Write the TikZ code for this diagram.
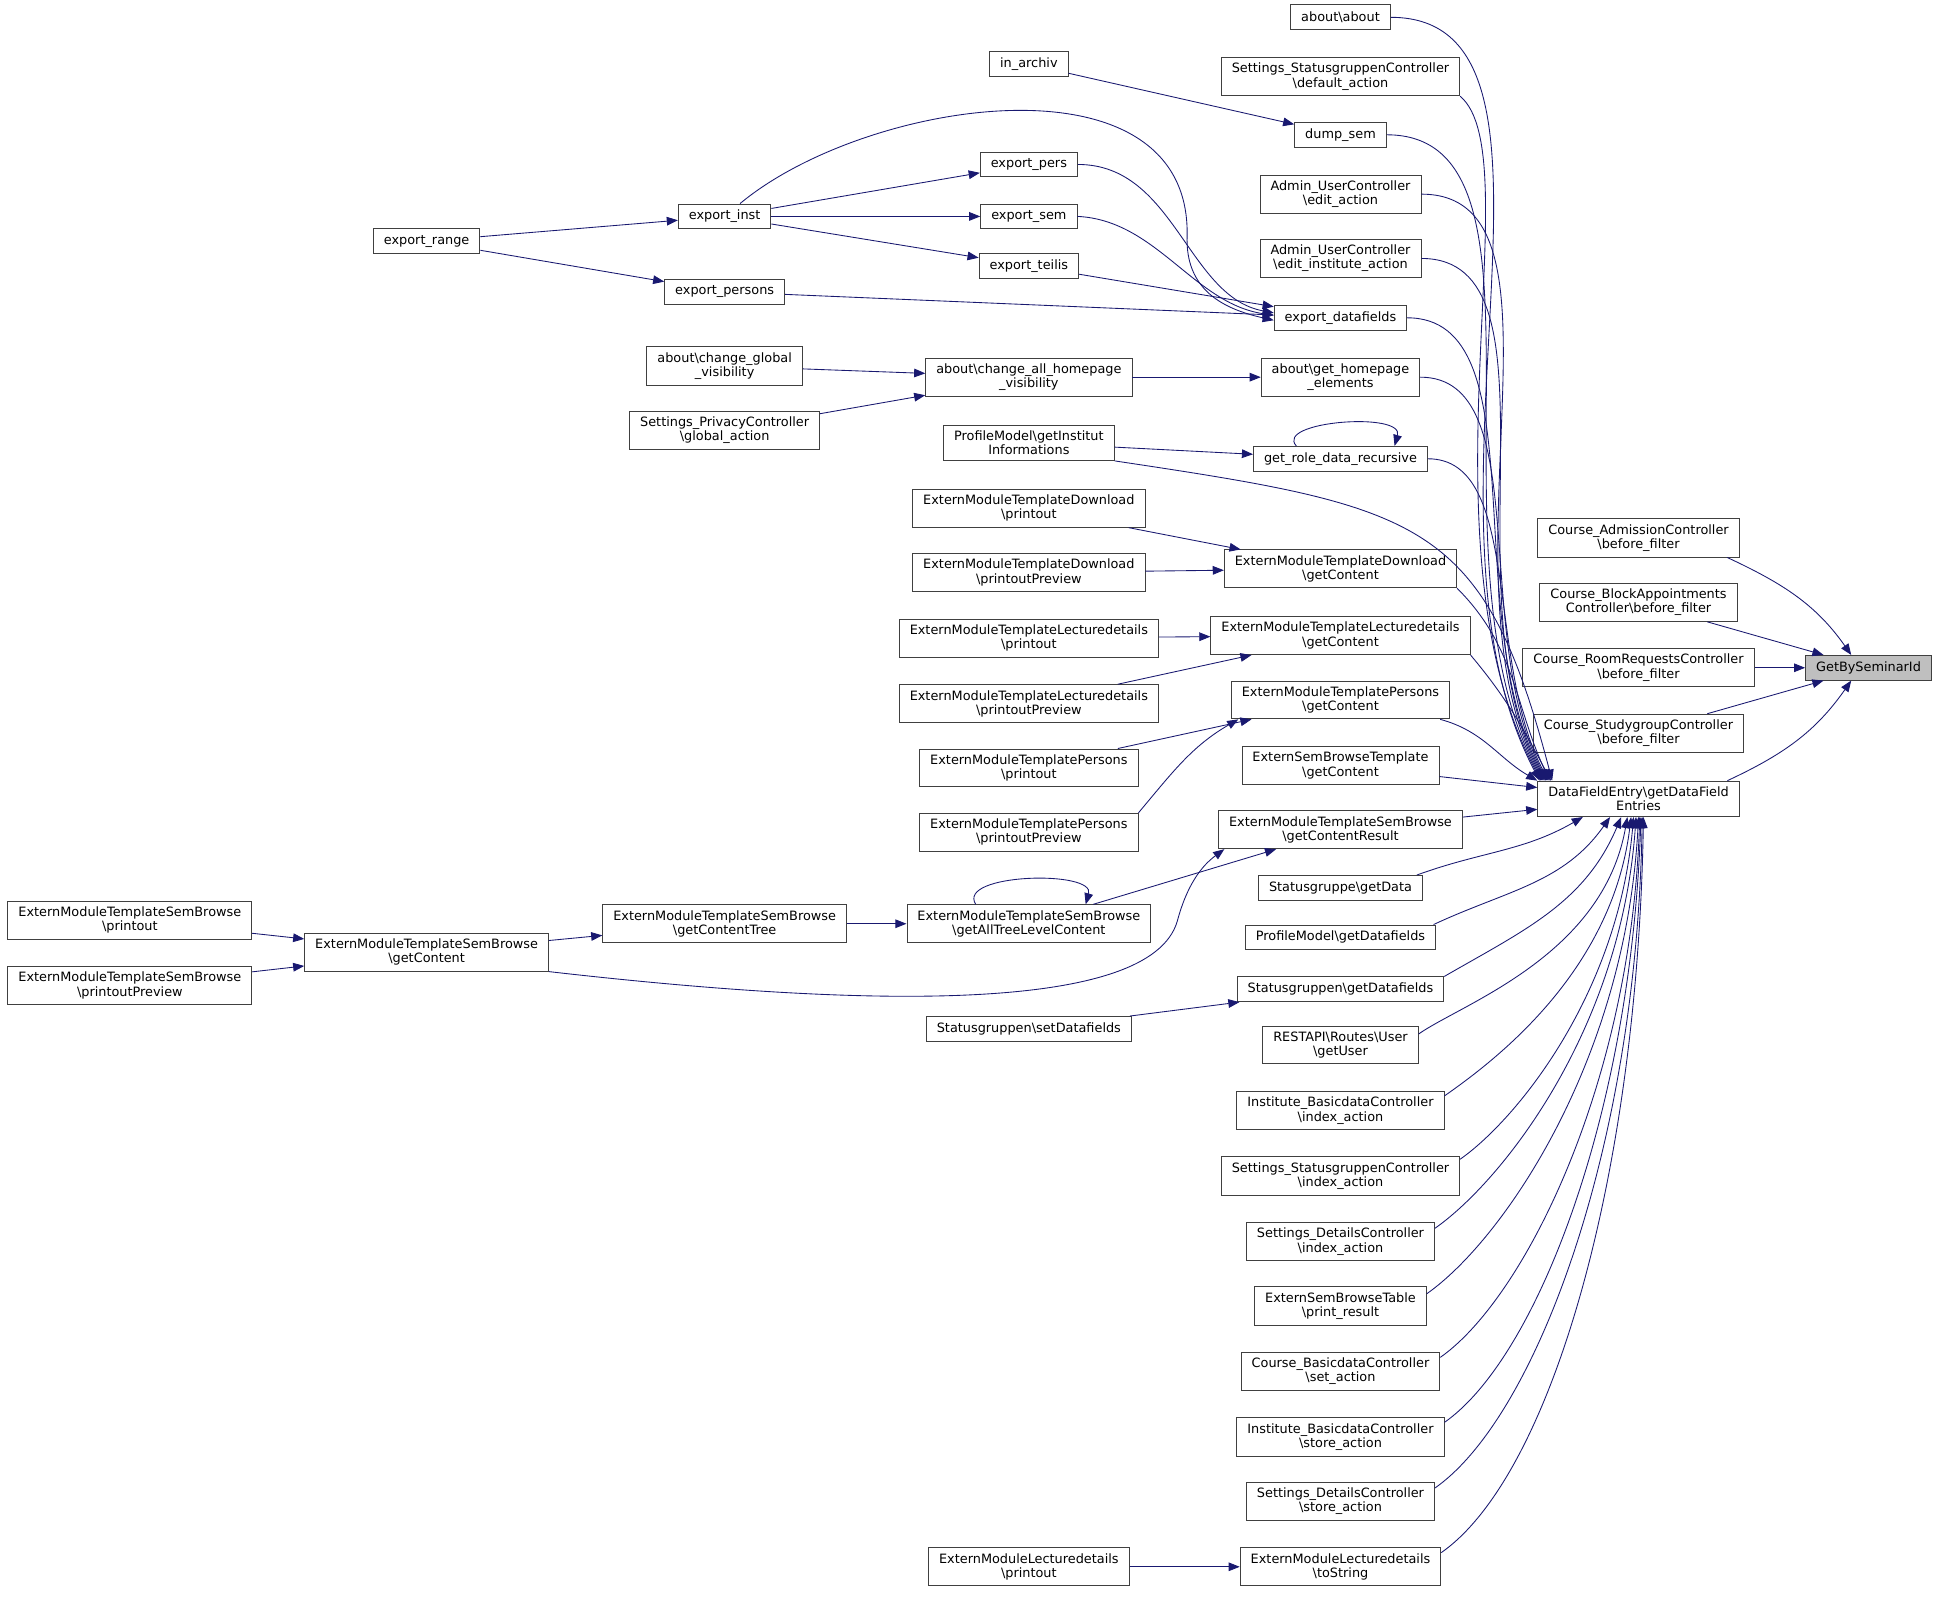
\documentclass[tikz,border=0pt]{standalone}
\usepackage{fontspec}
\setmainfont{DejaVu Sans}
\usetikzlibrary{arrows.meta}
\definecolor{midblue}{RGB}{25,25,112}
\newcommand{\bsl}{\textbackslash}

\begin{document}
\begin{tikzpicture}[x=1pt,y=1pt,
  >={Triangle[length=9pt,width=7pt]},
  fn/.style={draw=black!75,fill=white,line width=0.75pt,inner xsep=8.5pt,inner ysep=4.5pt,
    minimum height=20pt,align=center,font=\fontsize{10.4}{11.6}\selectfont},
  call/.style={->,draw=midblue,line width=0.7pt},
  bus/.style={out=0,in=118,out looseness=0.7,in looseness=1.0},
  rise/.style={out=35,in=-93,out looseness=0.45,in looseness=1.2}]
\useasboundingbox (0,0) rectangle (1568,-1292);

\node (sbpr) [fn] at (105,-744) {ExternModuleTemplateSemBrowse\\\bsl printout};
\node (sbpp) [fn] at (105,-797) {ExternModuleTemplateSemBrowse\\\bsl printoutPreview};
\node (range) [fn] at (345,-195) {export\_range};
\node (sbgc) [fn] at (345,-770) {ExternModuleTemplateSemBrowse\\\bsl getContent};
\node (inst) [fn] at (586,-175) {export\_inst};
\node (persons) [fn] at (586,-236) {export\_persons};
\node (glob) [fn] at (586,-296) {about\bsl change\_global\\\_visibility};
\node (priv) [fn] at (586,-348) {Settings\_PrivacyController\\\bsl global\_action};
\node (sbtree) [fn] at (586,-747) {ExternModuleTemplateSemBrowse\\\bsl getContentTree};
\node (archiv) [fn] at (832,-52) {in\_archiv};
\node (pers) [fn] at (832,-133) {export\_pers};
\node (sem) [fn] at (832,-175) {export\_sem};
\node (teilis) [fn] at (832,-215) {export\_teilis};
\node (allvis) [fn] at (832,-305) {about\bsl change\_all\_homepage\\\_visibility};
\node (pmii) [fn] at (832,-358) {ProfileModel\bsl getInstitut\\Informations};
\node (dlpr) [fn] at (832,-411) {ExternModuleTemplateDownload\\\bsl printout};
\node (dlpp) [fn] at (832,-463) {ExternModuleTemplateDownload\\\bsl printoutPreview};
\node (lcpr) [fn] at (832,-516) {ExternModuleTemplateLecturedetails\\\bsl printout};
\node (lcpp) [fn] at (832,-569) {ExternModuleTemplateLecturedetails\\\bsl printoutPreview};
\node (pepr) [fn] at (832,-621) {ExternModuleTemplatePersons\\\bsl printout};
\node (pepp) [fn] at (832,-673) {ExternModuleTemplatePersons\\\bsl printoutPreview};
\node (sball) [fn] at (832,-747) {ExternModuleTemplateSemBrowse\\\bsl getAllTreeLevelContent};
\node (sgset) [fn] at (832,-832) {Statusgruppen\bsl setDatafields};
\node (lpr) [fn] at (832,-1267) {ExternModuleLecturedetails\\\bsl printout};
\node (about) [fn] at (1084,-14) {about\bsl about};
\node (sdef) [fn] at (1084,-62) {Settings\_StatusgruppenController\\\bsl default\_action};
\node (dump) [fn] at (1084,-109) {dump\_sem};
\node (uedit) [fn] at (1084,-157) {Admin\_UserController\\\bsl edit\_action};
\node (uinst) [fn] at (1084,-209) {Admin\_UserController\\\bsl edit\_institute\_action};
\node (edf) [fn] at (1084,-257) {export\_datafields};
\node (ghe) [fn] at (1084,-305) {about\bsl get\_homepage\\\_elements};
\node (grdr) [fn] at (1084,-371) {get\_role\_data\_recursive};
\node (dlgc) [fn] at (1084,-460) {ExternModuleTemplateDownload\\\bsl getContent};
\node (lcgc) [fn] at (1084,-514) {ExternModuleTemplateLecturedetails\\\bsl getContent};
\node (pegc) [fn] at (1084,-566) {ExternModuleTemplatePersons\\\bsl getContent};
\node (sbt) [fn] at (1084,-619) {ExternSemBrowseTemplate\\\bsl getContent};
\node (sbres) [fn] at (1084,-671) {ExternModuleTemplateSemBrowse\\\bsl getContentResult};
\node (sgd) [fn] at (1084,-718) {Statusgruppe\bsl getData};
\node (pmdf) [fn] at (1084,-758) {ProfileModel\bsl getDatafields};
\node (sgdf) [fn] at (1084,-800) {Statusgruppen\bsl getDatafields};
\node (rest) [fn] at (1084,-845) {RESTAPI\bsl Routes\bsl User\\\bsl getUser};
\node (ibidx) [fn] at (1084,-898) {Institute\_BasicdataController\\\bsl index\_action};
\node (ssidx) [fn] at (1084,-951) {Settings\_StatusgruppenController\\\bsl index\_action};
\node (sdidx) [fn] at (1084,-1004) {Settings\_DetailsController\\\bsl index\_action};
\node (sbtab) [fn] at (1084,-1056) {ExternSemBrowseTable\\\bsl print\_result};
\node (cbset) [fn] at (1084,-1109) {Course\_BasicdataController\\\bsl set\_action};
\node (ibsto) [fn] at (1084,-1162) {Institute\_BasicdataController\\\bsl store\_action};
\node (sdsto) [fn] at (1084,-1214) {Settings\_DetailsController\\\bsl store\_action};
\node (ltos) [fn] at (1084,-1267) {ExternModuleLecturedetails\\\bsl toString};
\node (cadm) [fn] at (1325,-435) {Course\_AdmissionController\\\bsl before\_filter};
\node (cblk) [fn] at (1325,-487) {Course\_BlockAppointments\\Controller\bsl before\_filter};
\node (croom) [fn] at (1325,-540) {Course\_RoomRequestsController\\\bsl before\_filter};
\node (cstud) [fn] at (1325,-593) {Course\_StudygroupController\\\bsl before\_filter};
\node (dfe) [fn] at (1325,-646) {DataFieldEntry\bsl getDataField\\Entries};
\node (gbs) [fn,fill=black!25] at (1511,-540) {GetBySeminarId};

\draw[call] (range) -- (inst);
\draw[call] (range) -- (persons);
\draw[call] (inst) -- (pers);
\draw[call] (inst) -- (sem);
\draw[call] (inst) -- (teilis);
\draw[call] (inst) .. controls (700,-80) and (962,-40) .. (960,-190) .. controls (958,-235) and (990,-250) .. ([yshift=-2]edf.west);
\draw[call] (pers.east) .. controls (950,-133) and (960,-240) .. ([yshift=4]edf.west);
\draw[call] (sem.east) .. controls (935,-178) and (965,-245) .. ([yshift=2]edf.west);
\draw[call] (teilis) -- (edf);
\draw[call] (persons) -- (edf);
\draw[call] (archiv) -- (dump);
\draw[call] (glob) -- (allvis);
\draw[call] (priv) -- (allvis);
\draw[call] (allvis) -- (ghe);
\draw[call] (pmii) -- (grdr);
\draw[call] ([xshift=35]grdr.north west) .. controls +(-18,20) and +(8,28) .. ([xshift=-27]grdr.north east);
\draw[call] (dlpr) -- (dlgc);
\draw[call] (dlpp) -- (dlgc);
\draw[call] (lcpr) -- (lcgc);
\draw[call] (lcpp) -- (lcgc);
\draw[call] (pepr) -- (pegc);
\draw[call] (pepp.north east) to[out=50,in=-150] ([xshift=6]pegc.south west);
\draw[call] (sbpr) -- (sbgc);
\draw[call] (sbpp) -- (sbgc);
\draw[call] (sbgc) -- (sbtree);
\draw[call] (sbtree) -- (sball);
\draw[call] ([xshift=56]sball.north west) .. controls +(-16,25) and +(8,28) .. ([xshift=-53]sball.north east);
\draw[call] (sball) -- (sbres);
\draw[call] (sbgc.south east) .. controls (700,-815) and (930,-820) .. (952,-745) .. controls (960,-715) and (972,-700) .. ([xshift=5]sbres.south west);
\draw[call] (sgset) -- (sgdf);
\draw[call] (lpr) -- (ltos);

\draw[call] (about) to[bus] ([xshift=2]dfe.north west);
\draw[call] (sdef.south east) to[bus,out=-40,out looseness=0.35] ([xshift=3]dfe.north west);
\draw[call] (dump) to[bus] ([xshift=4]dfe.north west);
\draw[call] (uedit) to[bus] ([xshift=5]dfe.north west);
\draw[call] (uinst) to[bus] ([xshift=6]dfe.north west);
\draw[call] (edf) to[bus] ([xshift=7]dfe.north west);
\draw[call] (ghe) to[bus] ([xshift=8]dfe.north west);
\draw[call] (grdr) to[bus] ([xshift=9]dfe.north west);
\draw[call] (pmii.south east) .. controls (1150,-410) and (1200,-420) .. ([xshift=12]dfe.north west);
\draw[call] (dlgc.south east) to[out=-45,in=115] ([xshift=10]dfe.north west);
\draw[call] (lcgc.south east) to[out=-50,in=118] ([xshift=11]dfe.north west);
\draw[call] ([xshift=-8]pegc.south east) to[out=-15,in=150] (dfe.north west);
\draw[call] (sbt) -- (dfe);
\draw[call] (sbres) -- (dfe);
\draw[call] ([xshift=-5]sgd.north east) to[out=20,in=-150] ([xshift=-45]dfe.south);
\draw[call] ([xshift=-2]pmdf.north east) to[out=25,in=-125] ([xshift=-23]dfe.south);
\draw[call] (sgdf.north east) to[out=30,in=-113] ([xshift=-14]dfe.south);
\draw[call] (rest.8) to[rise,in=-100] ([xshift=-9]dfe.south);
\draw[call] (ibidx.8) to[rise,in=-97] ([xshift=-6]dfe.south);
\draw[call] (ssidx.8) to[rise,in=-95] ([xshift=-4]dfe.south);
\draw[call] (sdidx.8) to[rise,in=-94] ([xshift=-2]dfe.south);
\draw[call] (sbtab.8) to[rise,in=-93] (dfe.south);
\draw[call] (cbset.8) to[rise,in=-92] ([xshift=1]dfe.south);
\draw[call] (ibsto.8) to[rise,in=-92] ([xshift=2]dfe.south);
\draw[call] (sdsto.8) to[rise,in=-91] ([xshift=3]dfe.south);
\draw[call] (ltos.8) to[rise,in=-91] ([xshift=4]dfe.south);

\draw[call] ([xshift=-10]cadm.south east) to[out=-25,in=125] ([xshift=-14]gbs.north);
\draw[call] (cblk) -- (gbs);
\draw[call] (croom) -- (gbs);
\draw[call] (cstud) -- (gbs);
\draw[call] ([xshift=-10]dfe.north east) to[out=25,in=-125] ([xshift=-14]gbs.south);
\end{tikzpicture}
\end{document}
